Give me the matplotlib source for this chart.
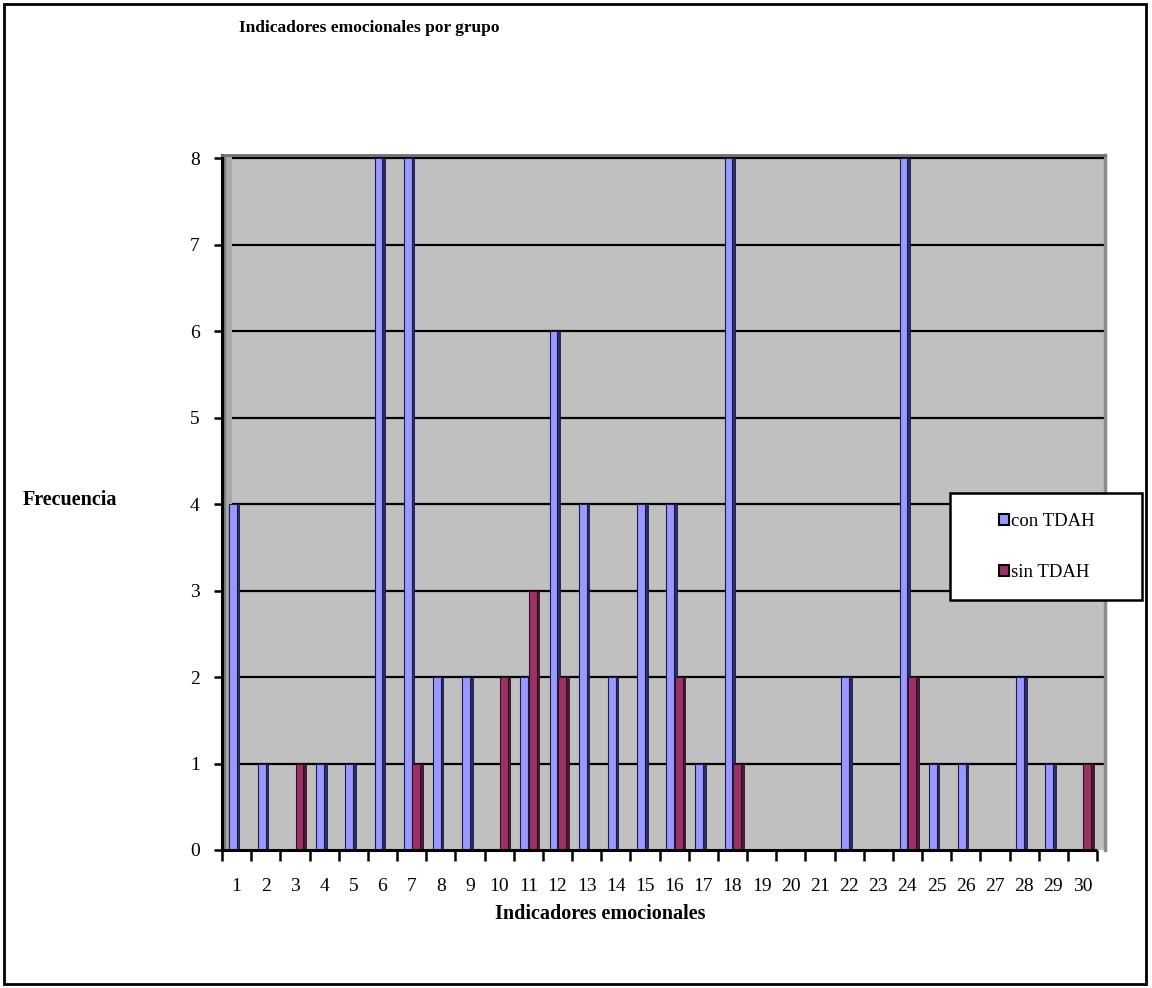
import matplotlib
matplotlib.use("Agg")
import matplotlib.pyplot as plt
import numpy as np
from matplotlib.patches import Rectangle

categories = list(range(1, 31))
con_tdah = [4, 1, 0, 1, 1, 8, 8, 2, 2, 0, 2, 6, 4, 2, 4, 4, 1, 8, 0, 0, 0, 2, 0, 8, 1, 1, 0, 2, 1, 0]
sin_tdah = [0, 0, 1, 0, 0, 0, 1, 0, 0, 2, 3, 2, 0, 0, 0, 2, 0, 1, 0, 0, 0, 0, 0, 2, 0, 0, 0, 0, 0, 1]
series_names = ["con TDAH", "sin TDAH"]
y_ticks = list(range(0, 9))

plt.rcParams['font.family'] = ['Liberation Serif', 'DejaVu Serif']

W, H = 1152, 988
fig = plt.figure(figsize=(W / 100, H / 100), dpi=100)
fig.patch.set_facecolor('white')

def fx(px):
    return px / W

def fy(py):
    return 1 - py / H

# outer border
fig.patches.append(Rectangle((fx(4), fy(984)), fx(1146) - fx(4), fy(4) - fy(984),
                             transform=fig.transFigure, fill=False, edgecolor='black', lw=2))

ax_l, ax_r, ax_t, ax_b = 222, 1105, 155, 850
ax = fig.add_axes([fx(ax_l), fy(ax_b), fx(ax_r) - fx(ax_l), fy(ax_t) - fy(ax_b)])
ax.set_facecolor('#C0C0C0')

cat_px = (1097 - 222) / 30.0
x_max = 30.5 + (ax_r - 1097) / cat_px
ax.set_xlim(0.5, x_max)
ax.set_ylim(0, 8 * (ax_b - ax_t) / (ax_b - 158))

# left wall
ax.add_patch(Rectangle((0, 0), 4 / 883, 1, transform=ax.transAxes, color='#7a7a7a', zorder=1, lw=0))
ax.add_patch(Rectangle((4 / 883, 0), 6 / 883, 1, transform=ax.transAxes, color='#a8a8a8', zorder=1, lw=0))

# gridlines on back wall
x_wall = 0.5 + 10 / cat_px
ax.hlines(y_ticks[1:], x_wall, x_max, colors='black', lw=1.6, zorder=2)

x = np.array(categories, dtype=float)
fw = 0.27
sd = 0.09
blue, blue_side = '#9999FF', '#2b2b66'
red, red_side = '#993366', '#4d1833'

ax.bar(x - 0.27, con_tdah, width=fw, align='edge', color=blue, edgecolor='#1a1a4d', lw=0.8, zorder=4)
ax.bar(x - 0.27 + fw, con_tdah, width=sd, align='edge', color=blue_side, edgecolor='#1a1a4d', lw=0.6, zorder=3)
ax.bar(x + 0.02, sin_tdah, width=fw, align='edge', color=red, edgecolor='#33101f', lw=0.8, zorder=4)
ax.bar(x + 0.02 + fw, sin_tdah, width=sd, align='edge', color=red_side, edgecolor='#33101f', lw=0.6, zorder=3)

# floor line
ax.hlines(0, 0.5, 30.5, colors='black', lw=2.2, zorder=5, clip_on=False)

ax.spines['bottom'].set_visible(False)
ax.spines['left'].set_linewidth(2.2)
ax.spines['top'].set_color('#707070')
ax.spines['top'].set_linewidth(2)
ax.spines['right'].set_color('#8a8a8a')
ax.spines['right'].set_linewidth(2.5)

ax.set_yticks(y_ticks)
ax.set_yticklabels([str(v) for v in y_ticks])
ax.tick_params(axis='y', length=6, width=1.8, pad=10, labelsize=14, direction='out')

ax.set_xticks(np.arange(0.5, 31, 1.0))
ax.set_xticklabels([])
ax.tick_params(axis='x', which='major', length=8, width=1.8, direction='out')
ax.set_xticks(x, minor=True)
ax.set_xticklabels([str(c) for c in categories], minor=True)
ax.tick_params(axis='x', which='minor', length=0, pad=20, labelsize=14)

fig.text(fx(369), fy(28), "Indicadores emocionales por grupo", ha='center', va='center',
         fontsize=12.5, fontweight='bold')
fig.text(fx(70), fy(500), "Frecuencia", ha='center', va='center', fontsize=14.5, fontweight='bold')
fig.text(fx(600), fy(914), "Indicadores emocionales", ha='center', va='center', fontsize=14.5, fontweight='bold')

# legend box
fig.patches.append(Rectangle((fx(950), fy(600)), fx(1142) - fx(950), fy(493) - fy(600),
                             transform=fig.transFigure, facecolor='white', edgecolor='black', lw=1.8, zorder=10))
handles = [Rectangle((0, 0), 1, 1, facecolor=blue, edgecolor='black', lw=1.5),
           Rectangle((0, 0), 1, 1, facecolor=red, edgecolor='black', lw=1.5)]
leg = fig.legend(handles, series_names, loc='center', bbox_to_anchor=(fx(1047), fy(547)),
                 frameon=False, fontsize=13.5, handlelength=0.55, handleheight=0.55,
                 handletextpad=0.1, labelspacing=1.8)
leg.set_zorder(11)

fig.savefig("out.png", dpi=100)
